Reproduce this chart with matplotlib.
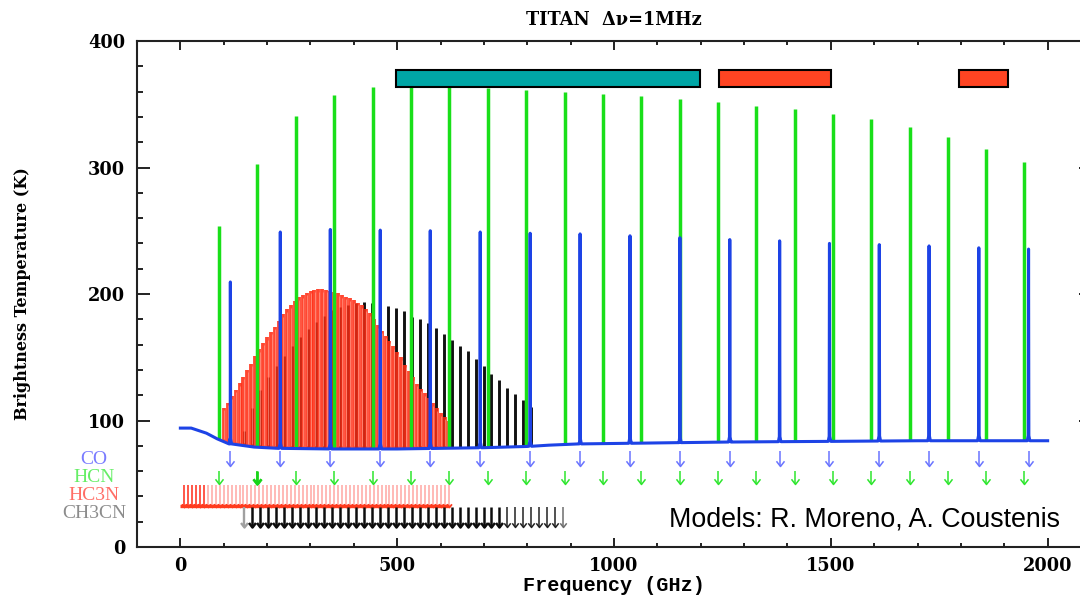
import numpy as np
import matplotlib
matplotlib.use("Agg")
import matplotlib.pyplot as plt
from matplotlib.path import Path
from matplotlib.patches import Rectangle
from matplotlib.ticker import MultipleLocator

# ---------------------------------------------------------------- data
# continuum of the model spectrum (GHz, K)
cont_freq = [0, 25, 60, 85, 115, 170, 225, 350, 500, 600, 700, 800, 850,
             920, 1040, 1150, 1270, 1400, 1500, 1700, 2000]
cont_temp = [94, 94, 90, 85.5, 81.5, 79, 78, 77.5, 77.5, 78, 78.5, 79.5, 80.5,
             81.5, 82, 82.5, 83, 83.3, 83.5, 84, 84]

# CO rotational lines
co_freq = [115.3, 230.5, 345.8, 461.0, 576.3, 691.5, 806.7, 921.8, 1036.9,
           1152.0, 1267.0, 1382.0, 1496.9, 1611.8, 1726.6, 1841.3, 1956.0]
co_peak = [209.5, 249, 251, 250.5, 250, 249, 248, 247.5, 246, 244.5, 243,
           242, 240, 239, 238, 236.5, 235.5]

# HCN rotational lines
hcn_freq = [88.6, 177.3, 265.9, 354.5, 443.1, 531.7, 620.3, 708.9, 797.4,
            886.0, 974.5, 1063.0, 1151.4, 1239.9, 1328.3, 1416.7, 1505.0,
            1593.3, 1681.6, 1769.8, 1858.0, 1946.2]
hcn_peak = [254, 303, 341, 357, 363.5, 365, 364, 363, 361, 359.5, 358, 356.5,
            354, 352, 349, 346, 342, 338, 332, 324, 315, 304]

# HC3N lines (J = 1 ... 68)
hc3n_freq = [9.1, 18.2, 27.3, 36.4, 45.5, 54.6, 63.7, 72.8, 81.9, 91.0,
             100.1, 109.2, 118.3, 127.4, 136.5, 145.6, 154.7, 163.8, 172.9,
             182.0, 191.1, 200.2, 209.3, 218.4, 227.5, 236.6, 245.7, 254.8,
             263.8, 272.9, 282.0, 291.1, 300.2, 309.3, 318.4, 327.5, 336.6,
             345.7, 354.8, 363.9, 373.0, 382.1, 391.2, 400.3, 409.4, 418.5,
             427.6, 436.7, 445.8, 454.9, 464.0, 473.1, 482.2, 491.3, 500.4,
             509.5, 518.6, 527.7, 536.8, 545.9, 555.0, 564.1, 573.2, 582.3,
             591.4, 600.5, 609.6, 618.7]
# peak temperatures of the HC3N lines from J = 11 upward
hc3n_peak = [110, 114, 119, 124.5, 129.5, 134.5, 140, 145, 151, 156.5, 161.5,
             166, 170, 174, 179, 184, 188, 191.3, 194.5, 197.3, 199.2, 201,
             202.4, 203.2, 203.7, 203.7, 203.5, 202.6, 201.5, 200.5, 199.2,
             197.9, 196.6, 195, 193, 191, 188.5, 185, 180, 175.5, 171, 167,
             163, 158.5, 154.5, 150, 144, 139, 134, 129, 125, 121.5, 117.5,
             113.5, 109.5, 105.7, 103, 100]

# CH3CN lines (J = 8 ... 48)
ch3cn_freq = [147.2, 165.6, 184.0, 202.4, 220.8, 239.2, 257.6, 276.0, 294.4,
              312.8, 331.2, 349.6, 368.0, 386.4, 404.8, 423.1, 441.5, 459.9,
              478.3, 496.7, 515.1, 533.5, 551.9, 570.3, 588.7, 607.1, 625.5,
              643.9, 662.3, 680.7, 699.1, 717.5, 735.9, 754.3, 772.7, 791.1,
              809.5, 827.9, 846.3, 864.7, 883.1]
# peak temperatures of the CH3CN lines J = 8 ... 44
ch3cn_peak = [92, 110, 124, 134, 143, 151, 159, 166, 172, 178, 183, 187, 190,
              191.5, 192.5, 193.5, 193, 192, 190.5, 189, 186.7, 182, 180, 177,
              173, 168.5, 163.6, 159, 155, 148.5, 143, 137, 132, 126, 121,
              116.5, 111]

# frequency coverage of the instruments
band_start = [498, 1243, 1796]
band_end = [1198, 1501, 1908]
band_color = ["#00a6a6", "#ff4422", "#ff4422"]

species = ["CO", "HCN", "HC3N", "CH3CN"]
species_color = ["#7a7cff", "#66ee66", "#ff6e66", "#8c8c8c"]

x_ticks = [0, 500, 1000, 1500, 2000]
y_ticks = [0, 100, 200, 300, 400]

# ---------------------------------------------------------------- figure
fig = plt.figure(figsize=(10.8, 5.95), dpi=100)
ax = fig.add_axes([0.12685, 0.08067, 0.88333, 0.85042])
ax.set_xlim(-100, 2100)
ax.set_ylim(0, 400)


def continuum(f):
    return np.interp(f, cont_freq, cont_temp)


blue = "#1d43e6"
green = "#19df19"

# CH3CN band (under the HC3N one)
ch_f = np.array(ch3cn_freq[:len(ch3cn_peak)])
ax.vlines(ch_f, continuum(ch_f), ch3cn_peak, colors="#111111", lw=2.1,
          zorder=1)

# HC3N band
hc_f = np.array(hc3n_freq[10:])
ax.vlines(hc_f, continuum(hc_f), hc3n_peak, colors="#ff2d14", lw=2.75,
          alpha=0.88, zorder=2)
ax.vlines(hc_f + 0.9, continuum(hc_f) + 2, np.array(hc3n_peak) - 2,
          colors="#ffa595", lw=0.6, alpha=0.7, zorder=2)

# HCN lines
hn_f = np.array(hcn_freq)
ax.vlines(hn_f, continuum(hn_f), hcn_peak, colors=green, lw=2.5, zorder=3)

# continuum with the CO lines on top
px, py = list(cont_freq), list(cont_temp)
for f, p in zip(co_freq, co_peak):
    b = float(continuum(f))
    px += [f - 3.0, f - 0.7, f, f + 0.7, f + 3.0]
    py += [b, b + 4, p, b + 4, b]
order = np.argsort(px, kind="stable")
ax.plot(np.array(px)[order], np.array(py)[order], color=blue, lw=2.2,
        zorder=4)

# instrument bands
for x0, x1, c in zip(band_start, band_end, band_color):
    ax.add_patch(Rectangle((x0, 363.6), x1 - x0, 13.5, facecolor=c,
                           edgecolor="black", lw=1.5, zorder=5))

# ---------------------------------------------------------------- line markers
chevron = Path([(-1, 1.3), (0, 0), (1, 1.3)],
               [Path.MOVETO, Path.LINETO, Path.LINETO])


def arrows(freqs, top, tip, color, lw, ms):
    freqs = np.atleast_1d(freqs)
    ax.vlines(freqs, tip, top, colors=color, lw=lw, zorder=6)
    ax.plot(freqs, np.full(len(freqs), tip), ls="none", marker=chevron,
            ms=ms, mec=color, mfc="none", mew=lw, zorder=6)


arrows(co_freq, 76.2, 64.4, "#6a74ff", 1.1, 7.5)
arrows(hcn_freq, 59.8, 50.0, "#2ee62e", 1.1, 7.5)
arrows(hcn_freq[1], 59.8, 50.0, "#19d419", 2.0, 7.5)

# HC3N markers
arrows(hc3n_freq[6:], 49.0, 32.0, "#ffaeaa", 1.2, 4.5)
arrows(hc3n_freq[:6], 49.0, 32.0, "#ff3b2a", 1.2, 4.5)
ax.hlines(32.6, 0, hc3n_freq[-1], colors="#ff3b1e", lw=2.4, zorder=6)
ax.plot(hc3n_freq, np.full(len(hc3n_freq), 32.0), ls="none", marker=chevron,
        ms=4.5, mec="#ff3b1e", mfc="none", mew=1.2, zorder=6)

# CH3CN markers
arrows(ch3cn_freq[0], 31.6, 15.5, "#a0a0a0", 1.7, 6.5)
arrows(ch3cn_freq[1:33], 31.6, 15.5, "#0d0d0d", 1.8, 6.5)
arrows(ch3cn_freq[33:-1], 31.6, 15.5, "#222222", 1.1, 6.0)
arrows(ch3cn_freq[-1], 31.6, 15.5, "#6e6e6e", 1.1, 6.0)

for i, (name, c) in enumerate(zip(species, species_color)):
    fig.text(94 / 1080, 1 - (459 + 18.3 * i) / 595, name, color=c,
             ha="center", va="center", family="Liberation Serif", size=14)

fig.text(669 / 1080, 1 - 527 / 595, "Models: R. Moreno, A. Coustenis",
         family="Liberation Sans", size=19.3, ha="left", va="baseline",
         color="black")

# ---------------------------------------------------------------- axes styling
ax.set_xticks(x_ticks)
ax.set_yticks(y_ticks)
ax.xaxis.set_minor_locator(MultipleLocator(100))
ax.yaxis.set_minor_locator(MultipleLocator(20))
ax.tick_params(which="both", direction="in", top=True, right=True,
               width=1.4, color="#222222")
ax.tick_params(axis="x", which="major", length=6.5, pad=7)
ax.tick_params(axis="x", which="minor", length=3.2)
ax.tick_params(axis="y", which="major", length=9, pad=8.5)
ax.tick_params(axis="y", which="minor", length=4.3)
for lab in ax.get_xticklabels() + ax.get_yticklabels():
    lab.set_family("DejaVu Serif")
    lab.set_weight("bold")
    lab.set_size(12.8)
for sp in ax.spines.values():
    sp.set_linewidth(1.5)
    sp.set_color("#222222")

ax.set_xlabel("Frequency (GHz)", family="Liberation Mono", weight="bold",
              size=14.5)
ax.xaxis.set_label_coords(0.5, -0.058)
ax.set_ylabel("Brightness Temperature (K)", family="DejaVu Serif",
              weight="bold", size=11.5)
ax.yaxis.set_label_coords(-0.111, 0.5)
ax.set_title("TITAN  \u0394\u03bd=1MHz", family="DejaVu Serif", weight="bold",
             size=12.8, y=1.031, pad=0)

fig.savefig("out.png", dpi=100)
